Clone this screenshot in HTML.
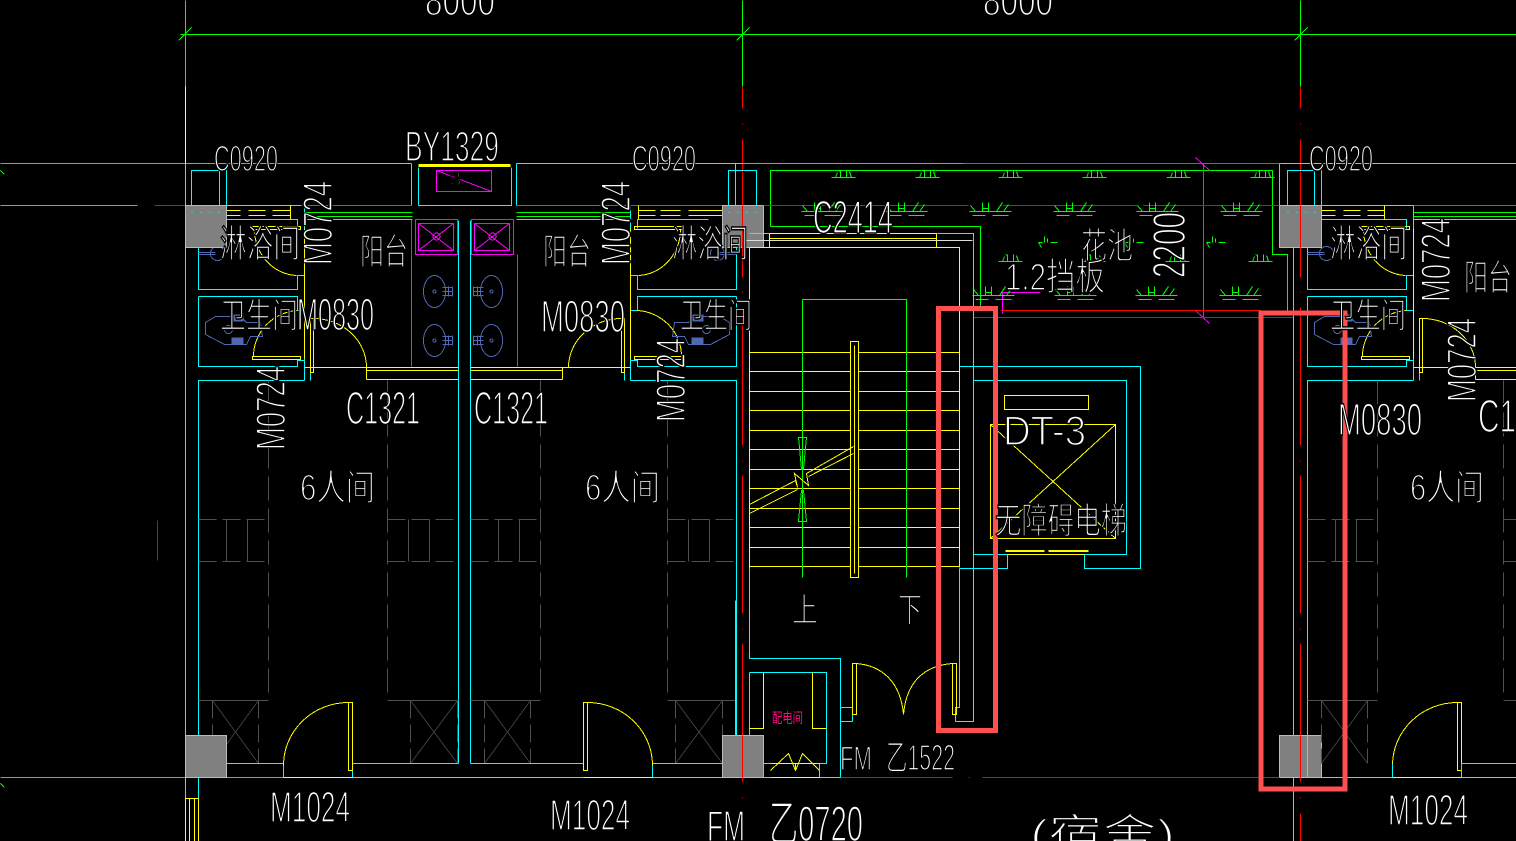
<!DOCTYPE html>
<html><head><meta charset="utf-8"><style>
html,body{margin:0;padding:0;background:#000;width:1516px;height:841px;overflow:hidden}
svg{display:block}
.c{stroke:#0ff}.g{stroke:#0f0}.y{stroke:#ff0}.m{stroke:#f0f}.r{stroke:#f00}.d{stroke:#505050}.b{stroke:#5068b0}.w{stroke:#eee}
path,rect,circle,ellipse{fill:none}
text{font-family:"Liberation Sans","Noto Sans CJK SC",sans-serif;fill:#fff;stroke:#000;stroke-width:1.6}
</style></head><body>
<svg width="1516" height="841" viewBox="0 0 1516 841" xmlns="http://www.w3.org/2000/svg" shape-rendering="crispEdges">
<defs>
<g id="bath">
<path class="c" d="M198 247V289H297V275H304M226 219H297V228M198 296H297V310H304M198 296V366H297V360H304M304 205V228M304 275V310M304 358V380M304 380H198V777M310 372V380"/>
<path class="y" d="M304 228V358M252 226h48v3h-48zM254 229A44 46 0 0 0 296 275M252 356h48v3h-48zM253 356A47 46 0 0 1 297 310M310 318h3v54h-3zM313 318A53 49 0 0 1 366 367M304 367H366"/>
<g class="b"><path d="M198 252H215M198 254H215"/><circle cx="217" cy="253" r="7"/><path d="M215 316L205 322V334L224 344H246L250 336H262L260 322H246L240 316Z"/><circle cx="228" cy="329" r="4"/></g>
<rect x="231" y="314" width="12" height="7" style="fill:#5068b0"/><rect x="231" y="337" width="12" height="7" style="fill:#5068b0"/>
</g>
<g id="room1d">
<path class="d" d="M268 380V700" stroke-dasharray="24 8"/>
<path class="d" d="M198 519H268M198 561H268M212 700V763M258 700V763" stroke-dasharray="18 6"/>
<path class="d" d="M226 519V561M247 519V561M198 700H268"/>
<path stroke="#3c3c3c" d="M212 763L258 700M212 700L258 763"/>
</g>
<g id="gr1"><path class="g" d="M-12 0H12M-3 0V-7M3 0V-7M-8 0L-6 -5M8 0L6 -6M-5 -7L-3 -6"/></g>
<g id="gr2"><path class="g" d="M-21 0H21M-15 0L-20 -6M-8 0V-9M-2 0V-9M-8 -3H-2M6 0L12 -9M13 0L18 -7M-18 4H-5M2 4H18"/></g>
<g id="gr3"><path class="g" d="M-9 -3L-6 2M-9 -3H-5M-3 -3V-9M0 -3V-7M3 -3H10"/></g>
<g id="sink"><ellipse cx="0" cy="0" rx="11" ry="16" class="b"/><circle cx="0" cy="0" r="1.5" class="b"/><path class="b" d="M8 -4H18M8 4H18M8 0H18M14 -5V5M18 -5V5"/></g>
<g id="mag"><rect x="0" y="0" width="42" height="35" class="m"/><rect x="3" y="4" width="35" height="27" class="m"/><circle cx="21" cy="17" r="3.5" class="m"/><path class="m" d="M3 4L38 31M38 4L3 31"/></g>
</defs>
<rect x="0" y="0" width="1516" height="841" style="fill:#000"/>
<g transform="translate(.5,.5)">
<!-- axes -->
<path class="g" d="M180 34H1516M178 40L191 27M736 40L749 27M1294 40L1307 27M185 0V86M742 0V86M1300 0V86M0 163H320M0 205H137M0 777H283M0 170L4 174M0 783L4 787"/>
<path class="w" d="M185 86V163"/>
<path class="c" d="M185 163V205"/>
<path stroke="#444" d="M157 520V560"/>
<path class="r" d="M154 205H185"/>
<path class="r" d="M742 86V108M742 123V124M742 139V277M742 291V292M742 307V445M742 460V461M742 475V613M742 628V629M742 643V781M742 797V798M742 813V841M1300 86V108M1300 123V124M1300 139V277M1300 291V292M1300 307V445M1300 460V461M1300 475V613M1300 628V629M1300 643V781M1300 797V798M1300 813V841"/>
<path class="c" d="M320 163H411M411 163V205M418 167V205M511 167V205H418M516 163V205M516 163H742M226 163V205M191 205V170H219V205M226 205H300"/>
<path class="m" d="M300 205H411M516 205H722"/>
<path class="y" d="M418 164H510M418 165H510M418 166H510"/>
<rect x="436" y="170" width="55" height="21" class="m"/><path class="m" d="M436 170L491 191"/>
<path class="g" d="M304 212H412M304 216H412M516 212H630M516 216H630"/>
<path stroke="#f0a080" d="M304 219H412M516 219H630"/>
<path class="y" d="M226 210H240M248 210H265M272 210H290M226 215H240M248 215H265M272 215H290M290 205V219M226 205V219M638 210H655M660 210H680M688 210H722M638 215H655M660 215H680M688 215H722M638 205V219"/>
<!-- left unit -->
<use href="#bath"/>
<g transform="matrix(-1 0 0 1 934 0)"><use href="#bath"/></g>
<path class="c" d="M458 220V763M470 220V763M185 247V735M185 777V841M198 777V841M735 163V205M728 205V170H756V205"/>
<rect x="185" y="798" width="13" height="43" class="y"/><path class="y" d="M189 798V841M194 798V841"/>
<path class="y" d="M366 367H458M366 370H458M366 379H458M366 367V379M470 367H568M470 370H562M470 379H562M562 367V379"/>
<use href="#mag" x="415" y="219"/><use href="#mag" x="471" y="219"/>
<path class="b" d="M411 219V366M517 254V366"/>
<use href="#sink" x="434" y="291"/><use href="#sink" x="434" y="340"/>
<g transform="matrix(-1 0 0 1 982 0)"><use href="#sink" x="491" y="291"/><use href="#sink" x="491" y="340"/></g>
<path class="d" d="M387 380V700M667 380V700" stroke-dasharray="24 8"/>
<use href="#room1d"/>
<use href="#room1d" x="272"/>
<path class="d" d="M387 519H458M387 561H458M667 519H735M667 561H735M410 700V763M457 700V763M675 700V763M722 700V763" stroke-dasharray="18 6"/>
<path class="d" d="M408 519V561M429 519V561M387 700H458M688 519V561M709 519V561M667 700H735"/>
<path stroke="#3c3c3c" d="M410 763L457 700M410 700L457 763M675 763L722 700M675 700L722 763"/>
<path class="c" d="M198 763H283V777M352 763V777M352 763H458M470 763H583M652 763V777M652 763H735M352 777H840"/>
<path class="y" d="M283 777H352M348 702h4v68h-4zM283 765A65 63 0 0 1 348 702M583 702h4v68h-4zM587 702A65 63 0 0 1 652 765M583 777H652"/>
<!-- columns -->
<g stroke="#bbb">
<rect x="185" y="205" width="41" height="42" style="fill:#808080"/><rect x="722" y="205" width="41" height="42" style="fill:#808080"/><rect x="1279" y="205" width="42" height="42" style="fill:#808080"/>
<rect x="185" y="735" width="41" height="42" style="fill:#808080"/><rect x="722" y="735" width="41" height="42" style="fill:#808080"/><rect x="1279" y="735" width="42" height="42" style="fill:#808080"/>
</g>
<path d="M191 212H220M728 212H757M1287 212H1316" stroke="#0ff" stroke-dasharray="1 8"/>
<path class="r" d="M742 205V277M742 735V781M1300 205V277M1300 735V781"/>
<!-- planter -->
<path class="g" d="M742 163H963M770 226V170H1272V254H1287V310M770 226H980V310"/>
<path class="m" d="M963 163H1280M1203 163V317M1195 157L1209 170M1195 310L1209 323M1002 313V292H1040M1413 205H1516"/>
<path class="r" d="M763 205H968M1003 205H1137M1143 205H1279M1000 310H1260M973 317H1293"/>
<g>
<use href="#gr1" x="843" y="177"/><use href="#gr1" x="927" y="177"/><use href="#gr1" x="1010" y="177"/><use href="#gr1" x="1094" y="177"/><use href="#gr1" x="1178" y="177"/><use href="#gr1" x="1262" y="177"/>
<use href="#gr2" x="822" y="211"/><use href="#gr2" x="906" y="211"/><use href="#gr2" x="990" y="211"/><use href="#gr2" x="1074" y="211"/><use href="#gr2" x="1157" y="211"/><use href="#gr2" x="1241" y="211"/>
<use href="#gr3" x="1047" y="245"/><use href="#gr3" x="1133" y="245"/><use href="#gr3" x="1215" y="245"/>
<use href="#gr1" x="1010" y="261"/><use href="#gr1" x="1093" y="261"/><use href="#gr1" x="1177" y="261"/><use href="#gr1" x="1260" y="261"/>
<use href="#gr2" x="993" y="295"/><use href="#gr2" x="1075" y="295"/><use href="#gr2" x="1156" y="295"/><use href="#gr2" x="1240" y="295"/>
</g>
<!-- stairs -->
<path class="y" d="M749 247V568M749 247H959V567M769 233H936V247H769ZM769 238H936M749 352H959M749 371H959M749 391H959M749 410H959M749 430H959M749 449H959M749 469H959M749 488H959M749 508H959M749 527H959M749 547H959M749 566H959"/>
<path stroke="#ddd" d="M743 240H972"/>
<path class="c" d="M749 233H769M937 233H973V721H955V707H959V568M959 366H1140V568H1084V554H1126V380H973M973 554H1007V568H959M1007 554H1084"/>
<path class="g" d="M802 299H906V577M802 299V577"/>
<path d="M798 437H806L805 447L803 469H801L799 447ZM801 490H803L805 510L806 521H798L799 510Z" class="g"/>
<rect x="850" y="341" width="8" height="236" class="y" style="fill:#000"/><path class="y" d="M854 345V573"/>
<path class="y" d="M749 504L795 480L797 487L794 473L808 485L806 473L853 446M749 513L797 489M808 476L853 453"/>
<rect x="1004" y="395" width="84" height="14" class="y"/><rect x="990" y="424" width="125" height="114" class="y"/><path class="y" d="M990 424L1115 538M1115 424L990 538M1005 550H1044M1048 550H1088M1005 551H1044M1048 551H1088M1007 554H1084"/>
<!-- distribution room -->
<path class="c" d="M735 600V735M749 568V658H840V777M749 672H826V763H763M749 672V735M840 707H852M840 721H852M852 707V721M763 763V777M819 763V777"/>
<path class="y" d="M763 672V728H749M812 672V728H826M770 763H819M770 777H819M770 770L788 753L795 770L802 753L819 770M795 763V770M852 663h4v51h-4zM856 663C880 665 900 680 903 714C906 680 925 665 952 663M952 663h4v51h-4z"/>
<path class="r" d="M840 777H952M968 777H969M982 777H1279"/>
<!-- right unit -->
<use href="#bath" x="1109"/>
<use href="#room1d" x="1109"/>
<path class="c" d="M1280 163H1516M1279 163V205M1321 163V205M1287 205V170H1314V205M1321 205H1413M1321 219H1384M1293 247V735M1293 777V841M1321 777H1392M1461 777H1516"/>
<path class="y" d="M1321 210H1335M1343 210H1360M1367 210H1384M1321 215H1335M1343 215H1360M1367 215H1384M1384 205V219M1475 367H1516M1475 370H1516M1475 379H1516M1475 367V379"/>
<path class="g" d="M1413 212H1516M1413 216H1516"/><path stroke="#f0a080" d="M1413 219H1516"/>
<path class="d" d="M1503 380V700" stroke-dasharray="24 8"/><path class="d" d="M1503 519H1516M1503 561H1516M1503 700H1516"/>
<path class="y" d="M1392 777H1461M1457 702h4v68h-4zM1392 765A65 63 0 0 1 1457 702"/>
<path class="c" d="M1392 763V777M1461 763V777M1461 763H1516"/>
<!-- highlight boxes -->
<rect x="938" y="308" width="57" height="422" style="stroke:#ff5050;stroke-width:5"/>
<rect x="1260.5" y="312.5" width="84" height="476" style="stroke:#ff5050;stroke-width:5"/>
</g>
<!-- labels -->
<g shape-rendering="auto">
<text x="425" y="15" font-size="42" textLength="70" lengthAdjust="spacingAndGlyphs">8000</text>
<text x="983" y="15" font-size="42" textLength="70" lengthAdjust="spacingAndGlyphs">8000</text>
<text x="214" y="171" font-size="36" textLength="64" lengthAdjust="spacingAndGlyphs">C0920</text>
<text x="632" y="171" font-size="36" textLength="64" lengthAdjust="spacingAndGlyphs">C0920</text>
<text x="1309" y="171" font-size="36" textLength="64" lengthAdjust="spacingAndGlyphs">C0920</text>
<text x="405" y="161" font-size="43" textLength="94" lengthAdjust="spacingAndGlyphs">BY1329</text>
<text x="450" y="186" font-size="20" textLength="11" lengthAdjust="spacingAndGlyphs">3</text>
<text transform="translate(332,265) rotate(-90)" font-size="42" textLength="84" lengthAdjust="spacingAndGlyphs">M0724</text>
<text transform="translate(285,450) rotate(-90)" font-size="42" textLength="84" lengthAdjust="spacingAndGlyphs">M0724</text>
<text transform="translate(630,265) rotate(-90)" font-size="42" textLength="84" lengthAdjust="spacingAndGlyphs">M0724</text>
<text transform="translate(685,422) rotate(-90)" font-size="42" textLength="84" lengthAdjust="spacingAndGlyphs">M0724</text>
<text transform="translate(1450,302) rotate(-90)" font-size="42" textLength="84" lengthAdjust="spacingAndGlyphs">M0724</text>
<text transform="translate(1476,402) rotate(-90)" font-size="42" textLength="84" lengthAdjust="spacingAndGlyphs">M0724</text>
<text transform="translate(1185,278) rotate(-90)" font-size="46" textLength="66" lengthAdjust="spacingAndGlyphs">2200</text>
<text x="220" y="257" font-size="38" textLength="80" lengthAdjust="spacingAndGlyphs">淋浴间</text>
<text x="672" y="257" font-size="38" textLength="76" lengthAdjust="spacingAndGlyphs">淋浴间</text>
<text x="1330" y="257" font-size="38" textLength="77" lengthAdjust="spacingAndGlyphs">淋浴间</text>
<text x="360" y="264" font-size="36" textLength="48" lengthAdjust="spacingAndGlyphs">阳台</text>
<text x="543" y="264" font-size="36" textLength="48" lengthAdjust="spacingAndGlyphs">阳台</text>
<text x="1464" y="290" font-size="36" textLength="48" lengthAdjust="spacingAndGlyphs">阳台</text>
<text x="220" y="328" font-size="35" textLength="78" lengthAdjust="spacingAndGlyphs">卫生间</text>
<text x="680" y="328" font-size="35" textLength="72" lengthAdjust="spacingAndGlyphs">卫生间</text>
<text x="1330" y="328" font-size="35" textLength="76" lengthAdjust="spacingAndGlyphs">卫生间</text>
<text x="297" y="330" font-size="45" textLength="77" lengthAdjust="spacingAndGlyphs">M0830</text>
<text x="541" y="332" font-size="45" textLength="84" lengthAdjust="spacingAndGlyphs">M0830</text>
<text x="1338" y="435" font-size="45" textLength="84" lengthAdjust="spacingAndGlyphs">M0830</text>
<text x="346" y="424" font-size="46" textLength="74" lengthAdjust="spacingAndGlyphs">C1321</text>
<text x="474" y="424" font-size="46" textLength="74" lengthAdjust="spacingAndGlyphs">C1321</text>
<text x="1478" y="432" font-size="46" textLength="38" lengthAdjust="spacingAndGlyphs">C1</text>
<text x="300" y="500" font-size="36" textLength="75" lengthAdjust="spacingAndGlyphs">6人间</text>
<text x="585" y="500" font-size="36" textLength="75" lengthAdjust="spacingAndGlyphs">6人间</text>
<text x="1410" y="500" font-size="36" textLength="74" lengthAdjust="spacingAndGlyphs">6人间</text>
<text x="270" y="822" font-size="44" textLength="80" lengthAdjust="spacingAndGlyphs">M1024</text>
<text x="550" y="830" font-size="44" textLength="80" lengthAdjust="spacingAndGlyphs">M1024</text>
<text x="1388" y="825" font-size="44" textLength="80" lengthAdjust="spacingAndGlyphs">M1024</text>
<text x="813" y="233" font-size="46" textLength="80" lengthAdjust="spacingAndGlyphs">C2414</text>
<text x="1081" y="258" font-size="36" textLength="52" lengthAdjust="spacingAndGlyphs">花池</text>
<text x="1005" y="290" font-size="38" textLength="100" lengthAdjust="spacingAndGlyphs">1.2挡板</text>
<text x="1003" y="445" font-size="42" textLength="83" lengthAdjust="spacingAndGlyphs">DT-3</text>
<text x="995" y="533" font-size="36" textLength="132" lengthAdjust="spacingAndGlyphs">无障碍电梯</text>
<text x="792" y="622" font-size="34" textLength="26" lengthAdjust="spacingAndGlyphs">上</text>
<text x="898" y="622" font-size="34" textLength="24" lengthAdjust="spacingAndGlyphs">下</text>
<text x="772" y="723" font-size="14" textLength="31" lengthAdjust="spacingAndGlyphs" style="fill:#ff0a80;stroke:none">配电间</text>
<text x="840" y="770" font-size="34" textLength="32" lengthAdjust="spacingAndGlyphs">FM</text>
<text x="886" y="770" font-size="36" textLength="69" lengthAdjust="spacingAndGlyphs">乙1522</text>
<text x="707" y="841" font-size="44" textLength="38" lengthAdjust="spacingAndGlyphs">FM</text>
<text x="769" y="841" font-size="50" textLength="94" lengthAdjust="spacingAndGlyphs">乙0720</text>
<text x="1030" y="849" font-size="42" textLength="145" lengthAdjust="spacingAndGlyphs">(宿舍)</text>
</g>
</svg>
</body></html>
